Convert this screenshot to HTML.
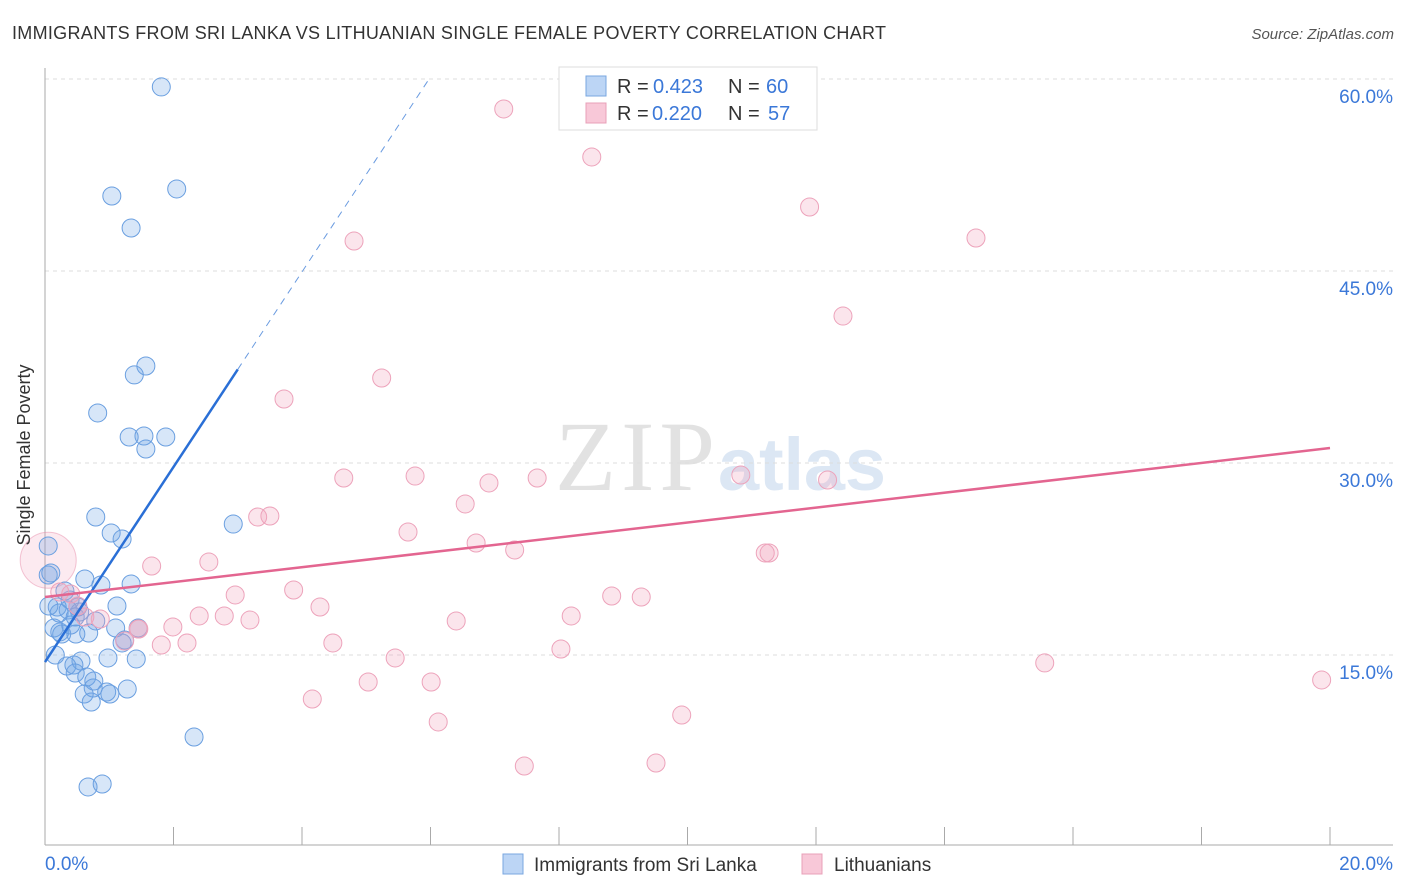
<!DOCTYPE html>
<html><head><meta charset="utf-8"><style>
body{margin:0;background:#fff;font-family:"Liberation Sans",sans-serif;}
svg{display:block}
</style></head><body>
<svg width="1406" height="892" xmlns="http://www.w3.org/2000/svg" id="chart">
<text x="12" y="39" font-size="18" fill="#333" textLength="874">IMMIGRANTS FROM SRI LANKA VS LITHUANIAN SINGLE FEMALE POVERTY CORRELATION CHART</text>
<text x="1394" y="39" font-size="15" fill="#555" font-style="italic" text-anchor="end">Source: ZipAtlas.com</text>
<text x="555" y="490" font-size="100" fill="#e2e2e2" textLength="160" font-family="Liberation Serif,serif">ZIP</text>
<text x="718" y="490" font-size="74" fill="#dce7f4" font-weight="bold" textLength="168">atlas</text>
<g id="grid"></g>
<g id="axes"></g>
<g id="pts"></g>
<g id="lines"></g>
<text x="30" y="455" font-size="18" fill="#333" text-anchor="middle" transform="rotate(-90 30 455)">Single Female Poverty</text>
<g>
<rect x="559" y="67" width="258" height="63" fill="#fff" stroke="#ddd"/>
<rect x="586" y="76" width="20" height="20" fill="#bcd5f5" stroke="#7aa7e0"/>
<rect x="586" y="103" width="20" height="20" fill="#f8c8d8" stroke="#e8a0b8"/>
<text x="617" y="93" font-size="20" fill="#333">R =</text>
<text x="653" y="93" font-size="20" fill="#3b78d8">0.423</text>
<text x="728" y="93" font-size="20" fill="#333">N =</text>
<text x="766" y="93" font-size="20" fill="#3b78d8">60</text>
<text x="617" y="120" font-size="20" fill="#333">R =</text>
<text x="652" y="120" font-size="20" fill="#3b78d8">0.220</text>
<text x="728" y="120" font-size="20" fill="#333">N =</text>
<text x="768" y="120" font-size="20" fill="#3b78d8">57</text>
</g>
<g>
<rect x="503" y="854" width="20" height="20" fill="#bcd5f5" stroke="#7aa7e0"/>
<text x="534" y="871" font-size="19" fill="#333">Immigrants from Sri Lanka</text>
<rect x="802" y="854" width="20" height="20" fill="#f8c8d8" stroke="#e8a0b8"/>
<text x="834" y="871" font-size="19" fill="#333">Lithuanians</text>
</g>
</svg>
<script>
const xTicks=[0,20];
const yTicks=[15,30,45,60];
const blueX=[1.81,1.04,2.05,1.34,1.57,1.39,0.82,1.31,1.54,1.88,1.57,2.93,0.79,1.03,1.20,0.05,0.05,0.09,0.62,1.34,0.87,0.31,0.39,0.19,1.12,0.36,0.54,0.22,0.47,0.79,0.14,1.10,1.45,0.68,0.26,0.48,1.24,1.20,0.16,0.56,0.98,1.42,0.34,0.45,0.47,0.65,0.76,0.75,1.28,0.61,0.96,1.01,0.72,2.32,0.67,0.89,0.23,0.40,0.06,0.51];
const blueY=[59.38,50.86,51.41,48.36,37.58,36.88,33.91,32.03,32.11,32.03,31.09,25.23,25.78,24.53,24.06,23.52,21.25,21.41,20.94,20.55,20.47,20.00,19.30,18.75,18.83,18.52,18.36,18.28,17.97,17.66,17.11,17.11,17.11,16.72,16.64,16.64,16.17,15.94,15.00,14.53,14.77,14.69,14.14,14.22,13.59,13.28,12.97,12.42,12.34,11.95,12.11,11.95,11.33,8.59,4.69,4.92,16.80,17.34,18.83,18.75];
const pinkX=[7.14,8.51,11.90,4.81,14.49,12.42,5.24,3.72,4.65,5.76,7.66,6.91,10.83,12.18,6.54,3.31,3.50,5.65,6.71,7.31,11.21,11.27,1.66,2.55,2.96,3.87,8.82,9.28,4.28,0.40,0.62,0.86,2.40,2.79,3.19,1.99,1.45,6.40,8.19,4.48,1.81,2.21,8.03,5.45,15.56,5.03,6.01,19.87,4.16,6.12,9.91,7.46,9.51,1.24,1.46,0.23,0.51];
const pinkY=[57.66,53.91,50.00,47.34,47.58,41.48,36.64,35.00,28.83,28.98,28.83,28.44,29.06,28.67,26.80,25.78,25.86,24.61,23.75,23.20,22.97,22.97,21.95,22.27,19.69,20.08,19.61,19.53,18.75,19.77,17.97,17.81,18.05,18.05,17.73,17.19,17.03,17.66,18.05,15.94,15.78,15.94,15.47,14.77,14.38,12.89,12.89,13.05,11.56,9.77,10.31,6.33,6.56,16.09,17.03,19.92,18.83];
const blueFit=[14.45,7.62];
const pinkFit=[19.53,0.582];
const NS='http://www.w3.org/2000/svg';
const X=v=>45+v/20*1285, Y=v=>847-v/15*192;
function mk(p,t,a){const e=document.createElementNS(NS,t);for(const k in a)e.setAttribute(k,a[k]);p.appendChild(e);return e;}
const grid=document.getElementById('grid'),axes=document.getElementById('axes'),pts=document.getElementById('pts'),lines=document.getElementById('lines');
yTicks.forEach(v=>{const l=mk(grid,'line',{x1:45,x2:1393,y1:Y(v),y2:Y(v),stroke:'#ddd','stroke-dasharray':'4,4'});


const t=mk(axes,'text',{x:1393,y:Y(v)+24,'font-size':19,fill:'#3b78d8','text-anchor':'end'});t.textContent=v.toFixed(1)+'%';

});
mk(axes,'line',{x1:45,x2:45,y1:68,y2:845,stroke:'#aaa'});
mk(axes,'line',{x1:45,x2:1393,y1:845,y2:845,stroke:'#aaa'});
for(let i=0;i<=10;i++){const x=X(i*2);const tk=mk(axes,'line',{x1:x,x2:x,y1:827,y2:845,stroke:'#aaa'});

}
xTicks.forEach((v,i)=>{const t=mk(axes,'text',{x:i?1393:45,y:870,'font-size':19,fill:'#3b78d8','text-anchor':i?'end':'start'});t.textContent=v.toFixed(1)+'%';

});
const bb=mk(pts,'circle',{cx:X(0.05),cy:Y(22.4),r:28,fill:'rgba(240,150,180,0.2)',stroke:'rgba(232,140,170,0.5)'});


blueX.forEach((v,i)=>{const c=mk(pts,'circle',{cx:X(v),cy:Y(blueY[i]),r:9,fill:'rgba(110,165,230,0.28)',stroke:'#6a9fe0','stroke-width':1});

});
pinkX.forEach((v,i)=>{const c=mk(pts,'circle',{cx:X(v),cy:Y(pinkY[i]),r:9,fill:'rgba(242,160,188,0.28)',stroke:'#eda3bb','stroke-width':1});

});
const bx2=3.0, bx3=(60-blueFit[0])/blueFit[1];
let l=mk(lines,'line',{x1:X(0),y1:Y(blueFit[0]),x2:X(bx2),y2:Y(blueFit[0]+blueFit[1]*bx2),stroke:'#2a6fd6','stroke-width':2.5});


l=mk(lines,'line',{x1:X(bx2),y1:Y(blueFit[0]+blueFit[1]*bx2),x2:X(bx3),y2:Y(60),stroke:'#6a9be0','stroke-width':1,'stroke-dasharray':'7,6'});


l=mk(lines,'line',{x1:X(0),y1:Y(pinkFit[0]),x2:X(20),y2:Y(pinkFit[0]+pinkFit[1]*20),stroke:'#e36590','stroke-width':2.5});


</script>
</body></html>
